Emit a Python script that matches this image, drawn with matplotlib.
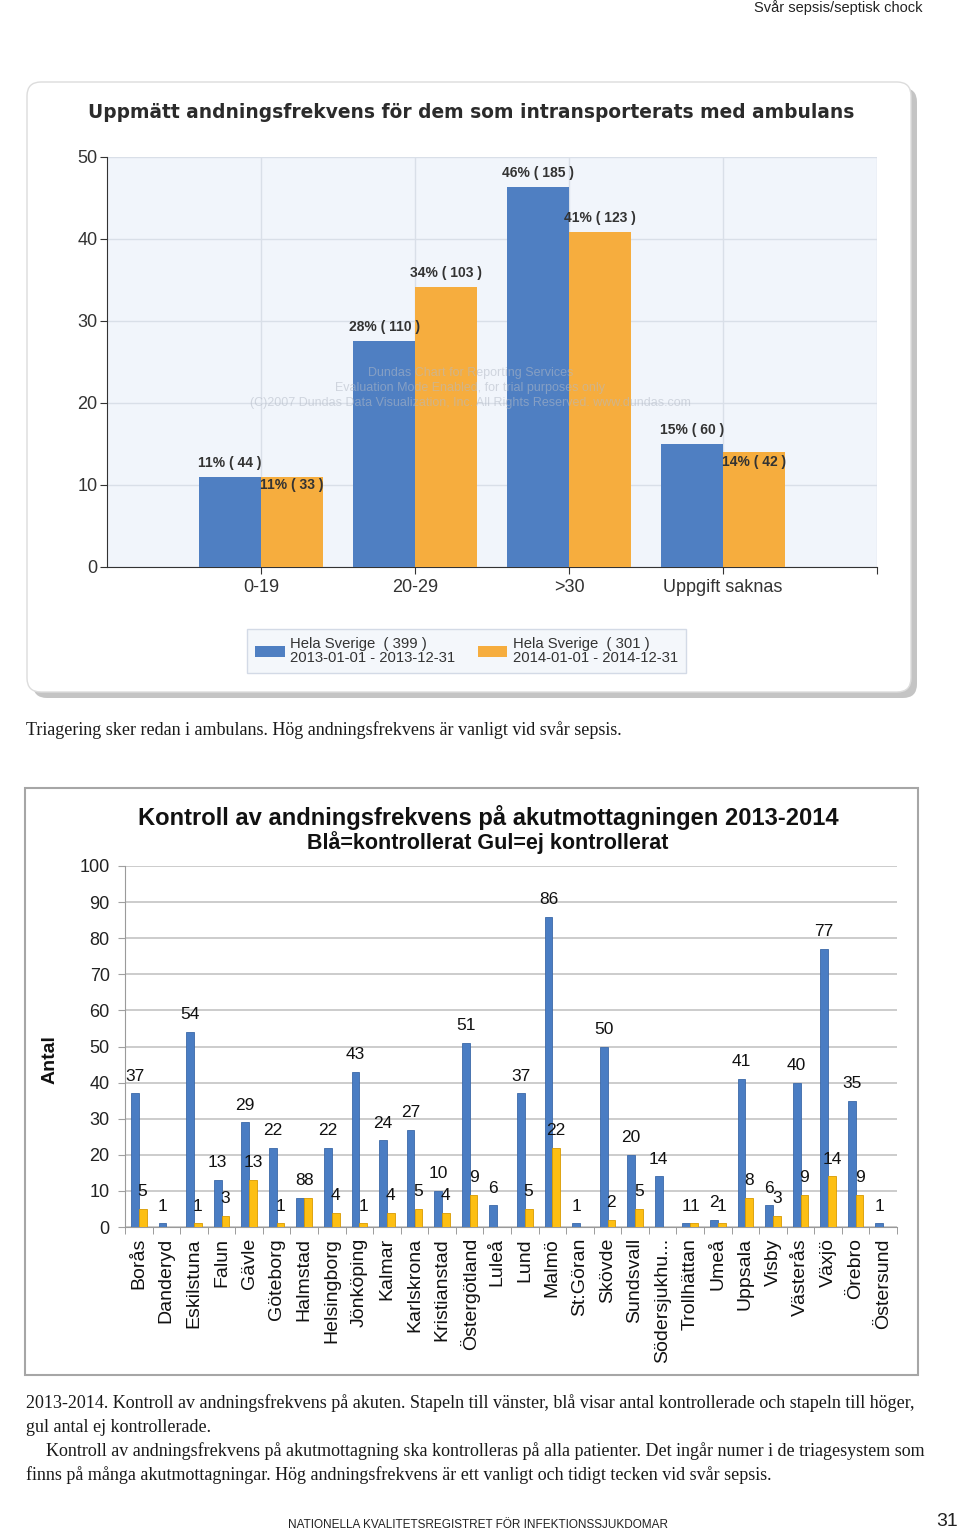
import matplotlib.pyplot as plt
import numpy as np
from matplotlib.patches import FancyBboxPatch, Rectangle

W, H = 960, 1532

# upper chart: share of patients per breathing-rate group (percent)
age_groups = ["0-19", "20-29", ">30", "Uppgift saknas"]
pct_2013 = [11.0, 27.6, 46.4, 15.0]
pct_2014 = [11.0, 34.2, 40.9, 14.0]
lbl_2013 = ["11% ( 44 )", "28% ( 110 )", "46% ( 185 )", "15% ( 60 )"]
lbl_2014 = ["11% ( 33 )", "34% ( 103 )", "41% ( 123 )", "14% ( 42 )"]
legend_2013 = "Hela Sverige  ( 399 )\n2013-01-01 - 2013-12-31"
legend_2014 = "Hela Sverige  ( 301 )\n2014-01-01 - 2014-12-31"

# lower chart: counts per hospital
hospitals = ["Borås", "Danderyd", "Eskilstuna", "Falun", "Gävle", "Göteborg",
             "Halmstad", "Helsingborg", "Jönköping", "Kalmar", "Karlskrona",
             "Kristianstad", "Östergötland", "Luleå", "Lund", "Malmö", "St:Göran",
             "Skövde", "Sundsvall", "Södersjukhu...", "Trollhättan", "Umeå",
             "Uppsala", "Visby", "Västerås", "Växjö", "Örebro", "Östersund"]
checked = [37, 1, 54, 13, 29, 22, 8, 22, 43, 24, 27, 10, 51, 6, 37, 86, 1,
           50, 20, 14, 1, 2, 41, 6, 40, 77, 35, 1]
not_checked = [5, None, 1, 3, 13, 1, 8, 4, 1, 4, 5, 4, 9, None, 5, 22, None,
               2, 5, None, 1, 1, 8, 3, 9, 14, 9, None]

plt.rcParams["font.family"] = ["Liberation Sans", "DejaVu Sans"]

fig = plt.figure(figsize=(W / 100, H / 100), dpi=100)
fig.patch.set_facecolor("white")


def px_axes(x0, y0, x1, y1):
    return fig.add_axes([x0 / W, 1 - y1 / H, (x1 - x0) / W, (y1 - y0) / H])


# page layer in pixel coordinates
bg = px_axes(0, 0, W, H)
bg.set_xlim(0, W)
bg.set_ylim(H, 0)
bg.axis("off")

bg.text(922, 8, "Svår sepsis/septisk chock", ha="right", va="center",
        fontsize=10.5, color="#222222")

# panel with shadow for upper chart
bg.add_patch(FancyBboxPatch((33, 88), 884, 610, boxstyle="round,pad=0,rounding_size=14",
                            facecolor="#c4c4c4", edgecolor="none"))
bg.add_patch(FancyBboxPatch((27, 82), 884, 610, boxstyle="round,pad=0,rounding_size=14",
                            facecolor="white", edgecolor="#dcdcdc", lw=1))
bg.text(471, 113, "Uppmätt andningsfrekvens för dem som intransporterats med ambulans",
        ha="center", va="center", fontsize=13.4, fontweight="bold",
        family="DejaVu Sans", color="#2b2b2b")

serif = ["Liberation Serif", "DejaVu Serif"]
bg.text(26, 730, "Triagering sker redan i ambulans. Hög andningsfrekvens är vanligt vid svår sepsis.",
        ha="left", va="center", fontsize=13, family=serif, color="#1a1a1a")

# frame for lower chart
bg.add_patch(Rectangle((25, 788), 893, 587, facecolor="white", edgecolor="#a6a6a6", lw=1.5))
bg.text(488, 817, "Kontroll av andningsfrekvens på akutmottagningen 2013-2014",
        ha="center", va="center", fontsize=17.1, fontweight="bold", color="#111111")
bg.text(488, 843, "Blå=kontrollerat Gul=ej kontrollerat",
        ha="center", va="center", fontsize=15.5, fontweight="bold", color="#111111")

captions = [
    (26, 1403, "2013-2014. Kontroll av andningsfrekvens på akuten. Stapeln till vänster, blå visar antal kontrollerade och stapeln till höger,"),
    (26, 1427, "gul antal ej kontrollerade."),
    (46, 1451, "Kontroll av andningsfrekvens på akutmottagning ska kontrolleras på alla patienter. Det ingår numer i de triagesystem som"),
    (26, 1475, "finns på många akutmottagningar. Hög andningsfrekvens är ett vanligt och tidigt tecken vid svår sepsis."),
]
for x, y, s in captions:
    bg.text(x, y, s, ha="left", va="center", fontsize=13, family=serif, color="#1a1a1a")

bg.text(478, 1525, "NATIONELLA KVALITETSREGISTRET FÖR INFEKTIONSSJUKDOMAR", ha="center",
        va="center", fontsize=8.5, color="#222222")
bg.text(958, 1522, "31", ha="right", va="center", fontsize=14, color="#222222")

# ---------------- upper chart ----------------
blue1 = "#4f7fc2"
yellow1 = "#f6ad3e"
ax1 = px_axes(107, 157, 877, 567)
ax1.set_facecolor("#f1f5fb")
pos = np.arange(1, len(age_groups) + 1)
bw = 0.4
b1 = ax1.bar(pos - bw / 2, pct_2013, bw, color=blue1, zorder=3, label=legend_2013)
b2 = ax1.bar(pos + bw / 2, pct_2014, bw, color=yellow1, zorder=3, label=legend_2014)

dy_2013 = [10, 10, 10, 10]
dy_2014 = [-6, 10, 10, -7]
for i in range(len(age_groups)):
    ax1.annotate(lbl_2013[i], (pos[i] - bw / 2, pct_2013[i]), xytext=(0, dy_2013[i]),
                 textcoords="offset points", ha="center", va="center",
                 fontsize=10, fontweight="bold", color="#333333", zorder=5)
    ax1.annotate(lbl_2014[i], (pos[i] + bw / 2, pct_2014[i]), xytext=(0, dy_2014[i]),
                 textcoords="offset points", ha="center", va="center",
                 fontsize=10, fontweight="bold", color="#333333", zorder=5)

# faint evaluation watermark of the chart tool
wm = ["Dundas Chart for Reporting Services",
      "Evaluation Mode Enabled, for trial purposes only",
      "(C)2007 Dundas Data Visualization, Inc. All Rights Reserved. www.dundas.com"]
for k, s in enumerate(wm):
    ax1.text(2.36, 23.7 - 1.85 * k, s, ha="center", va="center", fontsize=9,
             color="#b3bac6", alpha=0.55, zorder=4)

ax1.set_xlim(0, 5)
ax1.set_ylim(0, 50)
ax1.set_yticks(np.arange(0, 51, 10))
ax1.set_xticks([1, 2, 3, 4, 5])
ax1.set_xticklabels(age_groups + [""])
ax1.grid(axis="y", color="#d9dfe8", lw=1, zorder=0)
ax1.grid(axis="x", color="#d9dfe8", lw=1, zorder=0)
for s in ["top", "right"]:
    ax1.spines[s].set_visible(False)
ax1.spines["left"].set_color("#333333")
ax1.spines["bottom"].set_color("#333333")
ax1.tick_params(axis="y", length=5, labelsize=13, colors="#333333", pad=2)
ax1.tick_params(axis="x", length=5, labelsize=13, colors="#333333", pad=4)

leg = ax1.legend(handles=[b1, b2], loc="upper left", bbox_to_anchor=(0.182, -0.151),
                 ncol=2, fontsize=10.7, frameon=True, fancybox=False,
                 edgecolor="#d3dae6", facecolor="#f4f7fb", framealpha=1,
                 handlelength=2.0, handleheight=0.75, handletextpad=0.35,
                 columnspacing=1.5, borderaxespad=0, borderpad=0.55)
for t in leg.get_texts():
    t.set_color("#333333")
    t.set_linespacing(0.95)

# ---------------- lower chart ----------------
blue2 = "#4a7dc3"
yellow2 = "#fdbf13"
ax2 = px_axes(125, 866, 897, 1227)
x = np.arange(len(hospitals))
w = 0.28
nc = np.array([np.nan if v is None else v for v in not_checked], dtype=float)
ax2.bar(x - w / 2, checked, w, color=blue2, edgecolor="#3b69a8", lw=0.6, zorder=3)
ax2.bar(x + w / 2, nc, w, color=yellow2, edgecolor="#d99a00", lw=0.6, zorder=3)

for i in range(len(hospitals)):
    ax2.annotate(str(checked[i]), (x[i] - w / 2, checked[i]), xytext=(0, 7),
                 textcoords="offset points", ha="center", va="bottom",
                 fontsize=12.5, color="#111111", zorder=5)
    if not_checked[i] is not None:
        ax2.annotate(str(not_checked[i]), (x[i] + w / 2, not_checked[i]), xytext=(0, 7),
                     textcoords="offset points", ha="center", va="bottom",
                     fontsize=12.5, color="#111111", zorder=5)

ax2.set_xlim(-0.5, len(hospitals) - 0.5)
ax2.set_ylim(0, 100)
ax2.set_yticks(np.arange(0, 101, 10))
ax2.set_xticks(x)
ax2.set_xticklabels(hospitals, rotation=90, fontsize=14)
ax2.set_xticks(np.arange(-0.5, len(hospitals), 1), minor=True)
ax2.tick_params(axis="x", which="major", length=0, pad=8, colors="#111111")
ax2.tick_params(axis="x", which="minor", length=5, color="#8c8c8c")
ax2.tick_params(axis="y", length=5, labelsize=13, colors="#222222", pad=6)
ax2.tick_params(axis="y", color="#a0a0a0")
ax2.grid(axis="y", color="#c4c4c4", lw=1.2, zorder=0)
for s in ["top", "right"]:
    ax2.spines[s].set_visible(False)
ax2.spines["left"].set_color("#9a9a9a")
ax2.spines["bottom"].set_color("#9a9a9a")
ax2.text(-0.097, 0.4626, "Antal", transform=ax2.transAxes, rotation=90,
         ha="center", va="center", fontsize=14, fontweight="bold", color="#111111")

fig.savefig("out.png", dpi=100)
